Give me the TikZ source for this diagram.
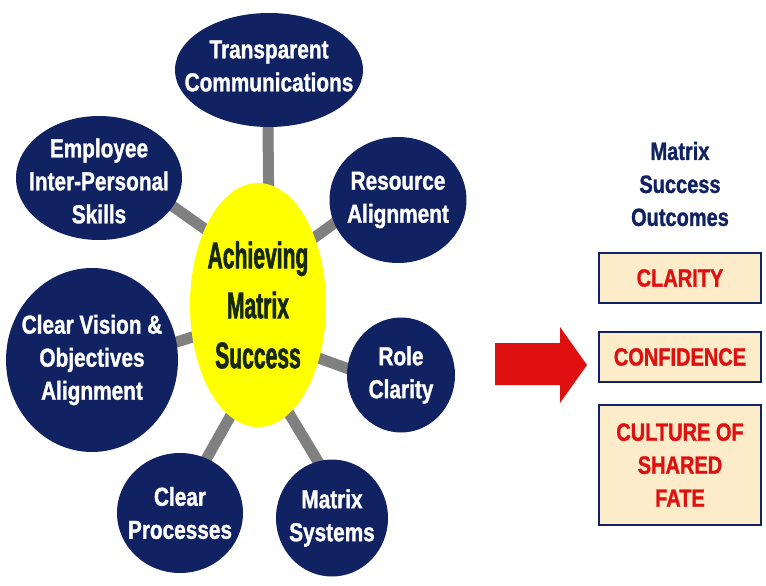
\documentclass[tikz,border=0pt]{standalone}
\usepackage{fontspec}
\setmainfont{Liberation Sans}
\newfontfamily\nar{Liberation Sans}[FakeStretch=0.8, FakeBold=1.2]
\newfontfamily\narc{Liberation Sans}[FakeStretch=0.57, FakeBold=1.5]
\usetikzlibrary{shapes.geometric,backgrounds}
\definecolor{navy}{RGB}{16,34,98}
\definecolor{conn}{RGB}{128,128,128}
\definecolor{cyel}{RGB}{255,255,0}
\definecolor{ctext}{RGB}{22,40,16}
\definecolor{cred}{RGB}{222,16,16}
\definecolor{cbox}{RGB}{253,236,202}
\tikzset{
  sat/.style={ellipse, fill=navy, inner sep=0pt},
  sattxt/.style={text=white, align=center, inner sep=0pt,
    font=\nar\bfseries\fontsize{26}{33}\selectfont},
  hub/.style={ellipse, fill=cyel, inner sep=0pt},
  hubtxt/.style={text=ctext, align=center, inner sep=0pt,
    font=\narc\bfseries\fontsize{37}{50}\selectfont},
  link/.style={draw=conn, line width=11pt, shorten <=-8pt, shorten >=-8pt},
  outbox/.style={draw=navy, line width=2.5pt, fill=cbox, text=cred, align=center,
    minimum width=162pt, inner sep=0pt, font=\nar\bfseries\fontsize{25}{33}\selectfont},
  headtxt/.style={text=navy, align=center, font=\nar\bfseries\fontsize{25}{33}\selectfont}
}
\begin{document}
\begin{tikzpicture}[x=1pt,y=-1pt]
\useasboundingbox (0,0) rectangle (766,586);
\node[hub, minimum width=136pt, minimum height=244pt,
  label={[hubtxt]center:Achieving\\Matrix\\Success}] (c) at (258,305) {};
\node[sat, minimum width=188pt, minimum height=114pt,
  label={[sattxt, yshift=4pt]center:Transparent\\Communications}] (t) at (269,70) {};
\node[sat, minimum width=166pt, minimum height=124pt,
  label={[sattxt, yshift=-3pt]center:Employee\\Inter-Personal\\Skills}] (e) at (99,178) {};
\node[sat, minimum width=137pt, minimum height=126pt,
  label={[sattxt]center:Resource\\Alignment}] (r) at (398,200) {};
\node[sat, minimum width=172pt, minimum height=184pt,
  label={[sattxt]center:Clear Vision \&\\Objectives\\Alignment}] (v) at (92,360) {};
\node[sat, minimum width=108pt, minimum height=115pt,
  label={[sattxt]center:Role\\Clarity}] (ro) at (401,375) {};
\node[sat, minimum width=126pt, minimum height=120pt,
  label={[sattxt]center:Clear\\Processes}] (p) at (180,513) {};
\node[sat, minimum width=112pt, minimum height=117pt,
  label={[sattxt]center:Matrix\\Systems}] (s) at (332,518) {};
\begin{scope}[on background layer]
\draw[link] (c.85) -- (t.-91);
\draw[link] (c.125) -- (e.-21);
\draw[link] (c.50) -- (r.-160);
\draw[link] (c.206) -- (v.12);
\draw[link] (c.-41) -- (ro.173);
\draw[link] (c.-104) -- (p.64);
\draw[link] (c.-74) -- (s.104);
\end{scope}
\node[headtxt] (h) at (680,184) {Matrix\\Success\\Outcomes};
\node[outbox, minimum height=50pt] (b1) at (680,278) {CLARITY};
\node[outbox, minimum height=50pt] (b2) at (680,357) {CONFIDENCE};
\node[outbox, minimum height=120pt] (b3) at (680,465) {CULTURE OF\\SHARED\\FATE};
\fill[cred] (495,343) -- (560,343) -- (560,327) -- (587,365) -- (560,403) -- (560,385) -- (495,385) -- cycle;
\end{tikzpicture}
\end{document}
